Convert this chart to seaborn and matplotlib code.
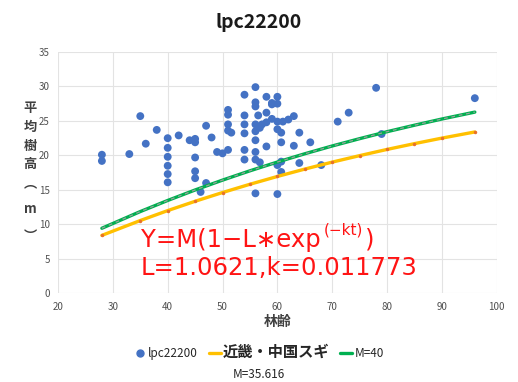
import matplotlib
matplotlib.use("Agg")
import matplotlib.pyplot as plt
from matplotlib.lines import Line2D
import seaborn as sns
import pandas as pd

# ---- data ----
ages = [28, 28, 33, 35, 36, 38,
        40, 40, 40, 40, 40, 40,
        42, 44, 45, 45, 45, 45, 45,
        46, 47, 47, 48, 49, 50,
        51, 51, 51, 51, 51, 51.6,
        54, 54, 54, 54, 54, 54,
        56, 56, 56, 56, 56, 56, 56, 56, 56,
        56.5, 56.8, 56.8, 57.2,
        58, 58, 58, 58,
        59, 59, 59,
        60, 60, 60, 60, 60, 60,
        60.7, 60.7, 60.7, 60.7,
        61, 62, 63, 63, 64, 64, 66, 68, 71, 73, 78, 79, 96]
heights = [20.1, 19.2, 20.2, 25.7, 21.7, 23.7,
           22.5, 21.1, 19.8, 18.5, 17.3, 16.1,
           22.9, 22.2, 22.4, 21.9, 19.7, 17.7, 16.7,
           14.7, 24.3, 16.0, 22.6, 20.5, 20.3,
           26.6, 25.9, 24.5, 23.6, 20.8, 23.3,
           28.8, 25.8, 24.5, 23.2, 20.8, 19.4,
           29.9, 27.7, 27.1, 24.5, 23.5, 22.2, 20.5, 19.4, 14.5,
           25.8, 24.0, 19.0, 24.5,
           28.5, 24.8, 21.3, 26.2,
           27.6, 27.4, 25.3,
           28.5, 27.5, 24.9, 23.8, 18.6, 14.4,
           23.3, 21.9, 19.1, 17.6,
           24.9, 25.2, 25.7, 21.4, 23.3, 18.9, 21.9, 18.6, 24.9, 26.2, 29.8, 23.1, 28.3]

curve_ages = [28, 35, 40, 45, 50, 55, 60, 65, 70, 75, 80, 85, 90, 96]
kinki_heights = [8.41, 10.56, 12.00, 13.35, 14.62, 15.82, 16.95, 18.02, 19.03, 19.97, 20.87, 21.71, 22.51, 23.40]
m40_heights = [9.44, 11.86, 13.47, 14.99, 16.42, 17.77, 19.04, 20.24, 21.37, 22.43, 23.44, 24.38, 25.28, 26.28]

x_ticks = [20, 30, 40, 50, 60, 70, 80, 90, 100]
y_ticks = [0, 5, 10, 15, 20, 25, 30, 35]

title = "lpc22200"
series_names = ["lpc22200", "近畿・中国スギ", "M=40"]
x_label = "林齢"
y_label_chars = ["平", "均", "樹", "高", "︵", "m", "︶"]
formula_main = "Y=M(1−L∗exp"
formula_sup = "(−kt)"
formula_end = ")"
formula_line2 = "L=1.0621,k=0.011773"
m_note = "M=35.616"

scatter_df = pd.DataFrame({"age": ages, "height": heights})
curve_df = pd.DataFrame({"age": curve_ages, "kinki": kinki_heights, "m40": m40_heights})

# ---- style ----
sns.set_theme(style="whitegrid")
plt.rcParams["font.family"] = ["Noto Sans CJK JP", "DejaVu Sans"]
plt.rcParams["axes.unicode_minus"] = False

fig = plt.figure(figsize=(5.18, 3.82), dpi=100)
fig.patch.set_facecolor("white")
ax = fig.add_axes([0.112, 0.232, 0.847, 0.632])

sns.scatterplot(data=scatter_df, x="age", y="height", ax=ax, color="#4472C4",
                s=32, edgecolor="none", zorder=3, legend=False)
sns.lineplot(data=curve_df, x="age", y="kinki", ax=ax, color="#FFC000", lw=2.4,
             marker="o", markersize=2.5, markerfacecolor="#E8702A",
             markeredgecolor="none", zorder=4, legend=False)
sns.lineplot(data=curve_df, x="age", y="m40", ax=ax, color="#00B050", lw=2.4,
             zorder=5, legend=False)
ax.plot(curve_df["age"], curve_df["m40"], color="#9E9E9E", lw=0.9,
        linestyle=(0, (3, 3)), zorder=6)

ax.set_xlim(20, 100)
ax.set_ylim(0, 35)
ax.set_xticks(x_ticks)
ax.set_yticks(y_ticks)
ax.tick_params(axis="both", length=0, labelsize=7, labelcolor="#505050", pad=6)
ax.grid(True, color="#E3E3E3", lw=0.8)
for s in ax.spines.values():
    s.set_visible(False)
ax.set_facecolor("white")
ax.set_xlabel(x_label, fontsize=10, fontweight="bold", color="#404040", labelpad=2)
ax.set_ylabel("")

fig.text(0.5, 0.942, title, ha="center", va="center", fontsize=14,
         fontweight="bold", color="#1A1A1A")

# vertical y label
y_positions = [108, 127, 146, 164, 183, 209, 236]
for ch, yp in zip(y_label_chars, y_positions):
    fig.text(0.058, 1 - yp / 382, ch, ha="center", va="center", fontsize=9.5,
             fontweight="bold", color="#404040")

# formula text
red = "#FF1414"
ffam = ["DejaVu Sans"]
fs = 17.5
fig.canvas.draw()
r = fig.canvas.get_renderer()
fx, fy = 141 / 518, 1 - 240 / 382
t1 = fig.text(fx, fy, formula_main, ha="left", va="center", fontsize=fs,
              color=red, family=ffam)
bb = t1.get_window_extent(r)
t2 = fig.text(bb.x1 / 518 + 0.006, fy + 0.027, formula_sup, ha="left", va="center",
              fontsize=11, color=red, family=ffam)
bb2 = t2.get_window_extent(r)
fig.text(bb2.x1 / 518 + 0.004, fy, formula_end, ha="left", va="center", fontsize=fs,
         color=red, family=ffam)
fig.text(fx, 1 - 268 / 382, formula_line2, ha="left", va="center", fontsize=fs,
         color=red, family=ffam)

# legend
handles = [
    Line2D([], [], marker="o", color="#4472C4", linestyle="none", markersize=5),
    Line2D([], [], color="#FFC000", lw=2.4),
    Line2D([], [], color="#00B050", lw=2.4),
]
leg = fig.legend(handles, series_names, loc="center", bbox_to_anchor=(0.5, 1 - 352 / 382),
                 ncol=3, frameon=False, fontsize=8.5, handlelength=1.0,
                 handletextpad=0.2, columnspacing=0.9)
txts = leg.get_texts()
txts[1].set_fontsize(11)
txts[1].set_fontweight("bold")
for t in txts:
    t.set_color("#262626")

fig.text(0.5, 1 - 374 / 382, m_note, ha="center", va="center", fontsize=8.5,
         color="#262626")

fig.savefig("out.png", dpi=100, facecolor="white")
